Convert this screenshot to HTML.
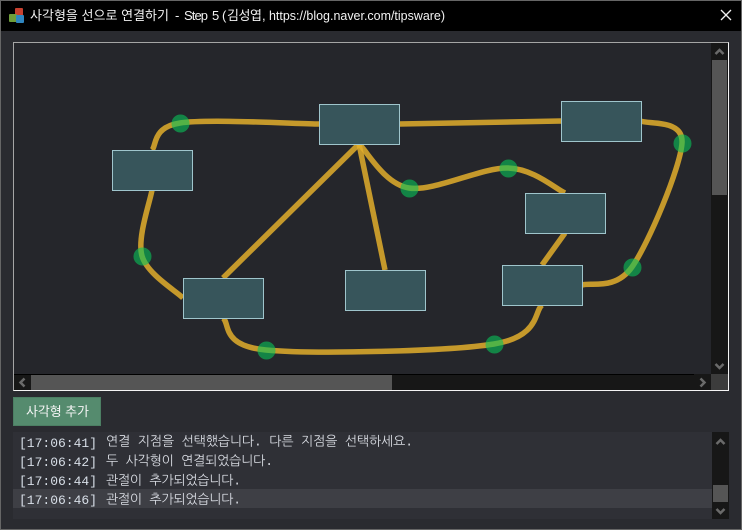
<!DOCTYPE html>
<html lang="ko"><head><meta charset="utf-8"><title>사각형을 선으로 연결하기</title>
<style>
html,body{margin:0;padding:0;background:#2a2b30;width:742px;height:530px;overflow:hidden}
svg{display:block}
.t{font-family:"Liberation Sans","Noto Sans CJK KR",sans-serif;font-size:13px;fill:#f2f2f2}
.m{font-family:"Liberation Mono",monospace;font-size:13px;fill:#d8dfe8}
.k{font-family:"Liberation Mono","NanumGothic","Noto Sans CJK KR",monospace;font-size:13px;fill:#d8dbe2}
.b{font-family:"Liberation Sans","Noto Sans CJK KR",sans-serif;font-size:13px;fill:#f4f4f4}
</style></head><body>
<svg width="742" height="530" viewBox="0 0 742 530" xmlns="http://www.w3.org/2000/svg">
<rect x="0" y="0" width="742" height="530" fill="#2a2b30"/>
<rect x="0" y="0" width="742" height="31" fill="#000"/>
<rect x="0" y="0" width="742" height="1" fill="#666"/>
<rect x="0" y="0" width="1" height="530" fill="#666"/>
<rect x="741" y="0" width="1" height="530" fill="#666"/>
<rect x="0" y="529" width="742" height="1" fill="#666"/>

<rect x="15" y="8" width="8" height="8" rx="1" fill="#c8402f"/>
<rect x="9" y="14" width="8" height="8" rx="1" fill="#6f9e3a"/>
<rect x="16" y="15" width="8" height="8" rx="1" fill="#2f86c0"/>
<text class="t" x="30" y="20" textLength="139" lengthAdjust="spacing">사각형을 선으로 연결하기</text>
<text class="t" x="175" y="20" textLength="4">-</text>
<text class="t" x="184" y="20" textLength="24" lengthAdjust="spacing">Step</text>
<text class="t" x="212" y="20">5</text>
<text class="t" x="222" y="20">(</text>
<text class="t" x="227" y="20" textLength="35" lengthAdjust="spacing">김성엽</text>
<text class="t" x="262" y="20">,</text>
<text class="t" x="269" y="20" textLength="176" lengthAdjust="spacingAndGlyphs">https://blog.naver.com/tipsware)</text>
<path d="M721 10L731 20M731 10L721 20" stroke="#f0f0f0" stroke-width="1.3" fill="none"/>

<rect x="13.5" y="42.5" width="715" height="348" fill="#25262b" stroke="#a5a5a5"/>
<path d="M13.5 390.5H728.5V42.5" fill="none" stroke="#f4f4f4"/>

<g fill="none" stroke="#e2ae2c" stroke-opacity="0.85" stroke-width="5.5">
<path d="M399 124L561 121"/>
<path d="M359 144L223 278"/>
<path d="M359 144L385 270"/>
<path d="M542 265L565 233"/>
<path d="M152 150C156.67 145.5 152.17 127.33 180 123C207.83 118.67 295.83 123.83 319 124"/>
<path d="M152 190C150.33 201 136.83 238 142 256C147.17 274 176.17 291 183 298"/>
<path d="M223 318C230.17 323.33 220.83 345.67 266 350C311.17 354.33 448 351.5 494 344C540 336.5 534 311.5 542 305"/>
<path d="M359 144C367.33 151.33 384.17 184 409 188C433.83 192 482 167.17 508 168C534 168.83 555.5 188.83 565 193"/>
<path d="M582 285C590.33 282 615.33 290.67 632 267C648.67 243.33 680.5 167.33 682 143C683.5 118.67 647.83 124.67 641 121"/>
</g>
<g fill="#37555b" stroke="#9fc5cc" stroke-width="1">
<rect x="112.5" y="150.5" width="80" height="40"/>
<rect x="319.5" y="104.5" width="80" height="40"/>
<rect x="561.5" y="101.5" width="80" height="40"/>
<rect x="525.5" y="193.5" width="80" height="40"/>
<rect x="502.5" y="265.5" width="80" height="40"/>
<rect x="345.5" y="270.5" width="80" height="40"/>
<rect x="183.5" y="278.5" width="80" height="40"/>
</g>
<g fill="#09c358" fill-opacity="0.6">
<circle cx="180.5" cy="123.5" r="9"/>
<circle cx="142.5" cy="256.5" r="9"/>
<circle cx="266.5" cy="350.5" r="9"/>
<circle cx="494.5" cy="344.5" r="9"/>
<circle cx="409.5" cy="188.5" r="9"/>
<circle cx="508.5" cy="168.5" r="9"/>
<circle cx="632.5" cy="267.5" r="9"/>
<circle cx="682.5" cy="143.5" r="9"/>
</g>

<rect x="711" y="43" width="17" height="331" fill="#171717"/>
<rect x="712" y="60" width="15" height="135" fill="#555"/>
<path d="M715.500 54L719.500 50L723.500 54M715.500 364L719.500 368L723.500 364" fill="none" stroke="#6a6a6a" stroke-width="2.5"/>
<rect x="14" y="374" width="697" height="16" fill="#171717"/>
<rect x="14" y="374" width="680" height="1" fill="#000"/>
<rect x="31" y="375" width="361" height="15" fill="#555"/>
<rect x="711" y="374" width="17" height="16" fill="#3c3c3c"/>
<path d="M24.500 378.500L20.500 382.500L24.500 386.500M700.500 378.500L704.500 382.500L700.500 386.500" fill="none" stroke="#6a6a6a" stroke-width="2.5"/>

<rect x="13.500" y="397.500" width="87" height="28" fill="#558b6e" stroke="#4c7f63"/>
<text class="b" x="26" y="416" textLength="63" lengthAdjust="spacing">사각형 추가</text>

<rect x="13" y="432" width="699" height="87" fill="#2f3036"/>
<rect x="13" y="489" width="699" height="19" fill="#3e3f45"/>
<rect x="712" y="432" width="17" height="87" fill="#171717"/>
<rect x="713" y="485" width="15" height="17" fill="#555"/>
<path d="M716.500 444L720.500 440L724.500 444M716.500 509L720.500 513L724.500 509" fill="none" stroke="#6a6a6a" stroke-width="2.5"/>

<text class="m" x="19" y="447">[17:06:41]</text>
<text class="k" x="106" y="445.500" textLength="307" lengthAdjust="spacing">연결 지점을 선택했습니다. 다른 지점을 선택하세요.</text>
<text class="m" x="19" y="466">[17:06:42]</text>
<text class="k" x="106" y="465" textLength="167" lengthAdjust="spacing">두 사각형이 연결되었습니다.</text>
<text class="m" x="19" y="485">[17:06:44]</text>
<text class="k" x="106" y="484.500" textLength="135" lengthAdjust="spacing">관절이 추가되었습니다.</text>
<text class="m" x="19" y="504">[17:06:46]</text>
<text class="k" x="106" y="503.500" textLength="135" lengthAdjust="spacing">관절이 추가되었습니다.</text>
</svg>
</body></html>
